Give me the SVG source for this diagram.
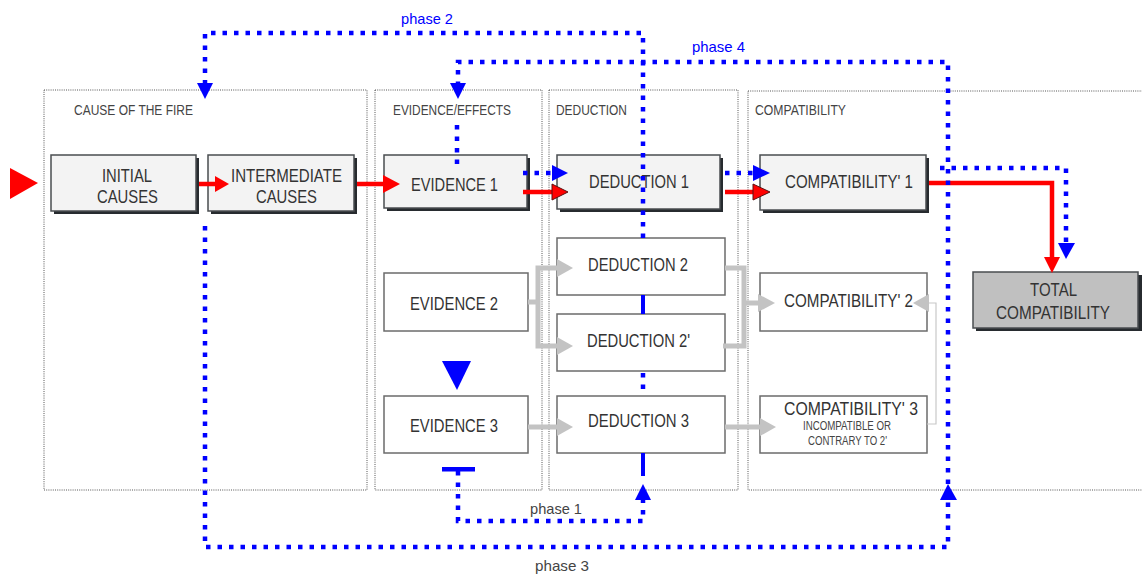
<svg xmlns="http://www.w3.org/2000/svg" width="1142" height="574" viewBox="0 0 1142 574">
<style>
.panel{fill:none;stroke:#555;stroke-width:1;stroke-dasharray:1 1.2}
.plabel{font-family:"Liberation Sans",Arial,sans-serif;font-size:14px;fill:#444}
.t{font-family:"Liberation Sans",Arial,sans-serif;font-size:18px;fill:#333;text-anchor:middle}
.ts{font-family:"Liberation Sans",Arial,sans-serif;font-size:12px;fill:#444;text-anchor:middle}
.sh{fill:#272b2f}
.gb{fill:#f3f3f3;stroke:#4a4d50;stroke-width:1.5}
.tb{fill:#c0c0c0;stroke:#4a4d50;stroke-width:1.5}
.wb{fill:#fff;stroke:#6b6b6b;stroke-width:1.5}
.blue{fill:none;stroke:#0000ff;stroke-width:4.5;stroke-dasharray:4.5 7}
.bsolid{fill:none;stroke:#0000ff;stroke-width:4}
.red{fill:none;stroke:#ff0000;stroke-width:4.5}
.gray{fill:none;stroke:#c3c3c3;stroke-width:5}
.thin{fill:none;stroke:#c8c8c8;stroke-width:1.2}
.bh{fill:#0000ff}
.rh{fill:#ff0000}
.rhd{fill:#ff0000;stroke:#5a1010;stroke-width:1}
.gh{fill:#c3c3c3}
.ph{font-family:"Liberation Sans",Arial,sans-serif;font-size:15px}
</style>

<g id="panels">
  <rect class="panel" x="44" y="90" width="323" height="400"/>
  <rect class="panel" x="375" y="90" width="167" height="400"/>
  <rect class="panel" x="549" y="90" width="189" height="400"/>
  <rect class="panel" x="748" y="91" width="402" height="399"/>
  <text class="plabel" x="74" y="115" textLength="119" lengthAdjust="spacingAndGlyphs">CAUSE OF THE FIRE</text>
  <text class="plabel" x="393" y="115" textLength="118" lengthAdjust="spacingAndGlyphs">EVIDENCE/EFFECTS</text>
  <text class="plabel" x="556" y="115" textLength="71" lengthAdjust="spacingAndGlyphs">DEDUCTION</text>
  <text class="plabel" x="755" y="115" textLength="91" lengthAdjust="spacingAndGlyphs">COMPATIBILITY</text>
</g>

<g id="node-initial">
  <rect class="sh" x="54" y="158" width="145" height="56"/>
  <rect class="gb" x="51" y="155" width="145" height="56"/>
  <text class="t" x="127" y="182" textLength="50" lengthAdjust="spacingAndGlyphs">INITIAL</text>
  <text class="t" x="127.5" y="203" textLength="61" lengthAdjust="spacingAndGlyphs">CAUSES</text>
</g>
<g id="node-intermediate">
  <rect class="sh" x="211" y="158" width="146" height="56"/>
  <rect class="gb" x="208" y="155" width="146" height="56"/>
  <text class="t" x="286.5" y="182" textLength="111" lengthAdjust="spacingAndGlyphs">INTERMEDIATE</text>
  <text class="t" x="286.5" y="203" textLength="61" lengthAdjust="spacingAndGlyphs">CAUSES</text>
</g>
<g id="node-evidence1">
  <rect class="sh" x="387" y="158" width="143" height="53"/>
  <rect class="gb" x="384" y="155" width="143" height="53"/>
  <text class="t" x="454.5" y="191" textLength="87" lengthAdjust="spacingAndGlyphs">EVIDENCE 1</text>
</g>
<g id="node-deduction1">
  <rect class="sh" x="560" y="158" width="163" height="54"/>
  <rect class="gb" x="557" y="155" width="163" height="54"/>
  <text class="t" x="639" y="188" textLength="100" lengthAdjust="spacingAndGlyphs">DEDUCTION 1</text>
</g>
<g id="node-compat1">
  <rect class="sh" x="763" y="158" width="166" height="55"/>
  <rect class="gb" x="760" y="155" width="166" height="55"/>
  <text class="t" x="849" y="188" textLength="128" lengthAdjust="spacingAndGlyphs">COMPATIBILITY' 1</text>
</g>
<g id="node-total">
  <rect class="sh" x="976" y="275" width="166" height="56"/>
  <rect class="tb" x="973" y="272" width="165" height="56"/>
  <text class="t" x="1053.5" y="296" textLength="47" lengthAdjust="spacingAndGlyphs">TOTAL</text>
  <text class="t" x="1053" y="319" textLength="114" lengthAdjust="spacingAndGlyphs">COMPATIBILITY</text>
</g>
<g id="node-evidence2">
  <rect class="wb" x="384" y="273" width="144" height="58"/>
  <text class="t" x="454" y="310" textLength="88" lengthAdjust="spacingAndGlyphs">EVIDENCE 2</text>
</g>
<g id="node-evidence3">
  <rect class="wb" x="384" y="396" width="144" height="57"/>
  <text class="t" x="454" y="432" textLength="88" lengthAdjust="spacingAndGlyphs">EVIDENCE 3</text>
</g>
<g id="node-deduction2">
  <rect class="wb" x="557" y="238" width="168" height="57"/>
  <text class="t" x="638" y="271" textLength="100" lengthAdjust="spacingAndGlyphs">DEDUCTION 2</text>
</g>
<g id="node-deduction2p">
  <rect class="wb" x="557" y="314" width="168" height="57"/>
  <text class="t" x="638.5" y="347" textLength="103" lengthAdjust="spacingAndGlyphs">DEDUCTION 2'</text>
</g>
<g id="node-deduction3">
  <rect class="wb" x="557" y="396" width="168" height="57"/>
  <text class="t" x="638.5" y="427" textLength="101" lengthAdjust="spacingAndGlyphs">DEDUCTION 3</text>
</g>
<g id="node-compat2">
  <rect class="wb" x="760" y="273" width="167" height="58"/>
  <text class="t" x="848.5" y="307" textLength="129" lengthAdjust="spacingAndGlyphs">COMPATIBILITY' 2</text>
</g>
<g id="node-compat3">
  <rect class="wb" x="760" y="396" width="167" height="57"/>
  <text class="t" x="851" y="415" textLength="134" lengthAdjust="spacingAndGlyphs">COMPATIBILITY'  3</text>
  <text class="ts" x="847" y="430" textLength="88" lengthAdjust="spacingAndGlyphs">INCOMPATIBLE OR</text>
  <text class="ts" x="847.5" y="445" textLength="79" lengthAdjust="spacingAndGlyphs">CONTRARY TO 2'</text>
</g>

<g id="connectors">
  <!-- start marker -->
  <polygon class="rh" points="10,168 10,199 38,183"/>

  <!-- red main chain -->
  <line class="red" x1="199" y1="184" x2="216" y2="184"/>
  <polygon class="rh" points="215,176 229,184 215,192"/>
  <line class="red" x1="357" y1="184" x2="384" y2="184"/>
  <polygon class="rh" points="383,175 400,184 383,193"/>
  <line class="red" x1="523" y1="192" x2="553" y2="192"/>
  <polygon class="rhd" points="552,184 568,192 552,200"/>
  <line class="red" x1="725" y1="192" x2="754" y2="192"/>
  <polygon class="rhd" points="753,184 770,192 753,200"/>
  <polyline class="red" points="929,183 1052,183 1052,258"/>
  <polygon class="rh" points="1044,257 1060,257 1052,273"/>

  <!-- blue dotted arrows between boxes -->
  <line class="blue" x1="523" y1="173" x2="552" y2="173"/>
  <polygon class="bh" points="552,165 568,173 552,181"/>
  <line class="blue" x1="725" y1="173" x2="753" y2="173"/>
  <polygon class="bh" points="753,165 770,173 753,181"/>

  <!-- phase 2 -->
  <polyline class="blue" points="643,238 643,33 205,33 205,84"/>
  <polygon class="bh" points="197,83 213,83 205,99"/>
  <text class="ph" x="401" y="24" fill="#0000ff" textLength="52" lengthAdjust="spacingAndGlyphs">phase 2</text>

  <!-- deduction column link -->
  <line class="bsolid" x1="643" y1="295" x2="643" y2="314"/>
  <line class="blue" x1="643" y1="373" x2="643" y2="396"/>
  <line class="bsolid" x1="643" y1="453" x2="643" y2="476"/>

  <!-- phase 4 -->
  <polyline class="blue" points="948,484 948,62 458,62 458,84"/>
  <polygon class="bh" points="450,83 466,83 458,99"/>
  <line class="blue" x1="457" y1="125" x2="457" y2="166"/>
  <text class="ph" x="692" y="52" fill="#0000ff" textLength="53" lengthAdjust="spacingAndGlyphs">phase 4</text>

  <!-- to total (blue) -->
  <polyline class="blue" points="940,168 1066,168 1066,244"/>
  <polygon class="bh" points="1058,243 1075,243 1066,259"/>

  <!-- evidence marker -->
  <polygon class="bh" points="442,361 471,361 457,390"/>

  <!-- phase 1 -->
  <rect class="bh" x="442" y="467" width="33" height="4.5"/>
  <polyline class="blue" points="458,471 458,521 643,521 643,500"/>
  <polygon class="bh" points="635,500 651,500 643,484"/>
  <text class="ph" x="530" y="514" fill="#444" textLength="52" lengthAdjust="spacingAndGlyphs">phase 1</text>

  <!-- phase 3 -->
  <polyline class="blue" points="205,226 205,547 948,547 948,500"/>
  <polygon class="bh" points="940,500 957,500 948,484"/>
  <text class="ph" x="535" y="571" fill="#444" textLength="54" lengthAdjust="spacingAndGlyphs">phase 3</text>

  <!-- gray arrows -->
  <polyline class="gray" points="528,302 538,302"/>
  <polyline class="gray" points="558,268 538,268 538,346 558,346"/>
  <polygon class="gh" points="557,259 573,268 557,277"/>
  <polygon class="gh" points="557,337 573,346 557,355"/>
  <polyline class="gray" points="725,268 744,268 744,346 723,346"/>
  <polyline class="gray" points="744,303 760,303"/>
  <polygon class="gh" points="758,294 775,303 758,312"/>
  <line class="gray" x1="528" y1="427" x2="558" y2="427"/>
  <polygon class="gh" points="557,418 573,427 557,436"/>
  <line class="gray" x1="725" y1="427" x2="761" y2="427"/>
  <polygon class="gh" points="760,418 776,427 760,436"/>
  <polyline class="thin" points="927,424 936,424 936,303 927,303"/>
  <polygon class="gh" points="929,294 913,303 929,312"/>
</g>
</svg>
